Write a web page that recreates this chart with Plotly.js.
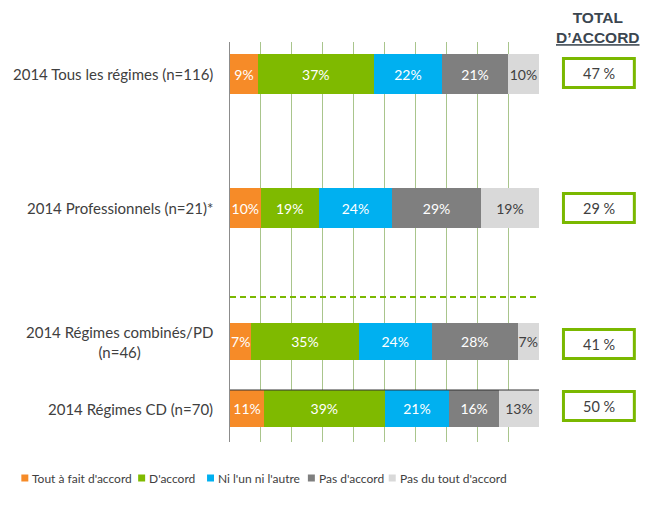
<!DOCTYPE html>
<html>
<head>
<meta charset="utf-8">
<script src="https://cdn.plot.ly/plotly-3.0.1.min.js"></script>
<style>html,body{margin:0;padding:0;background:#fff;}#chart{width:668px;height:509px;}</style>
</head>
<body>
<div id="chart"></div>
<script>
// ---- data ----
const categories = [
  "2014 Tous les régimes (n=116)",
  "2014 Professionnels (n=21)*",
  "2014 Régimes combinés/PD<br>(n=46)",
  "2014 Régimes CD (n=70)"
];
const seriesNames = ["Tout à fait d'accord", "D'accord", "Ni l'un ni l'autre", "Pas d'accord", "Pas du tout d'accord"];
const toutAFait  = [9, 10, 7, 11];
const dAccord    = [37, 19, 35, 39];
const niNi       = [22, 24, 24, 21];
const pasDAccord = [21, 29, 28, 16];
const pasDuTout  = [10, 19, 7, 13];
const totalAccord = [47, 29, 41, 50];

// ---- layout / style ----
const seriesValues = [toutAFait, dAccord, niNi, pasDAccord, pasDuTout];
const colors = ["#F68B28", "#7FBA00", "#00B0F0", "#7F7F7F", "#D9D9D9"];
const textColors = ["#FFFFFF", "#FFFFFF", "#FFFFFF", "#FFFFFF", "#404040"];
const rowPos = [32, 166, 299.5, 366.5];   // vertical centre of each bar (px from plot top)
const rowWidth = [40, 40, 37, 37];
const L = 230, R = 539.5, T = 42, B = 442;
const px2x = p => (p - L) / (R - L);
const py2y = p => (B - p) / (B - T);
const FONT = "Lato, 'Open Sans', sans-serif";

const traces = seriesValues.map((vals, i) => ({
  type: 'bar',
  orientation: 'h',
  name: seriesNames[i],
  x: vals,
  y: rowPos,
  width: rowWidth,
  text: vals.map(v => v + '%'),
  textposition: 'inside',
  insidetextanchor: 'middle',
  textangle: 0,
  constraintext: 'none',
  textfont: {family: FONT, size: 14, color: textColors[i]},
  marker: {color: colors[i], line: {width: 0}},
  showlegend: false,
  hoverinfo: 'skip'
}));

const annotations = [];
const shapes = [];

// category labels
categories.forEach((c, i) => {
  annotations.push({
    xref: 'paper', yref: 'y', x: px2x(215), y: rowPos[i],
    xanchor: 'right', yanchor: 'middle', align: 'center',
    text: c, showarrow: false,
    font: {family: FONT, size: 15, color: '#404040'}
  });
});

// total d'accord header
annotations.push({
  xref: 'paper', yref: 'paper', x: px2x(599), y: py2y(27.5),
  xanchor: 'center', yanchor: 'middle', align: 'center',
  text: "<b>TOTAL</b><br><b><u>D’ACCORD</u></b>", showarrow: false,
  font: {family: "Arial, 'Liberation Sans', sans-serif", size: 15.5, color: '#3B4650'}
});

// total boxes
const boxCenters = [73, 208, 344, 406];
totalAccord.forEach((v, i) => {
  const cy = boxCenters[i];
  shapes.push({
    type: 'rect', xref: 'paper', yref: 'paper',
    x0: px2x(564), x1: px2x(635), y0: py2y(cy + 14.5), y1: py2y(cy - 14.5),
    line: {color: '#7AB800', width: 3}, fillcolor: '#FFFFFF', layer: 'above'
  });
  annotations.push({
    xref: 'paper', yref: 'paper', x: px2x(599.5), y: py2y(cy),
    xanchor: 'center', yanchor: 'middle',
    text: v + ' %', showarrow: false,
    font: {family: FONT, size: 14.5, color: '#404040'}
  });
});

// dashed separator
shapes.push({
  type: 'line', xref: 'paper', yref: 'paper',
  x0: 0, x1: 1, y0: py2y(297), y1: py2y(297),
  line: {color: '#7AB800', width: 2, dash: '6px,4px'}, layer: 'above'
});
// thin dark line on top of last bar
shapes.push({
  type: 'line', xref: 'paper', yref: 'y',
  x0: 0, x1: 1, y0: rowPos[3] - rowWidth[3] / 2, y1: rowPos[3] - rowWidth[3] / 2,
  line: {color: '#333333', width: 1}, layer: 'above'
});

// legend (custom)
const legSquareX = [21, 138, 207, 308, 389];
seriesNames.forEach((n, i) => {
  const x0 = legSquareX[i];
  shapes.push({
    type: 'rect', xref: 'paper', yref: 'paper',
    x0: px2x(x0), x1: px2x(x0 + 7), y0: py2y(481.5), y1: py2y(474.5),
    fillcolor: colors[i], line: {width: 0}
  });
  annotations.push({
    xref: 'paper', yref: 'paper', x: px2x(x0 + 9), y: py2y(478),
    xanchor: 'left', yanchor: 'middle',
    text: n, showarrow: false,
    font: {family: FONT, size: 12, color: '#404040'}
  });
});

const layout = {
  width: 668, height: 509,
  margin: {l: L, r: 668 - R, t: T, b: 509 - B, pad: 0},
  paper_bgcolor: '#FFFFFF', plot_bgcolor: '#FFFFFF',
  barmode: 'stack', barnorm: 'percent',
  showlegend: false,
  xaxis: {
    range: [0, 100], dtick: 10, showgrid: true, gridcolor: '#A9C58C', gridwidth: 1,
    showticklabels: false, zeroline: false, showline: false, fixedrange: true
  },
  yaxis: {
    range: [400, 0], showgrid: false, showticklabels: false, zeroline: false,
    showline: true, linecolor: '#8C8C8C', linewidth: 1, fixedrange: true
  },
  annotations: annotations,
  shapes: shapes,
  font: {family: FONT}
};

Plotly.newPlot('chart', traces, layout, {staticPlot: true, displayModeBar: false});
</script>
</body>
</html>
